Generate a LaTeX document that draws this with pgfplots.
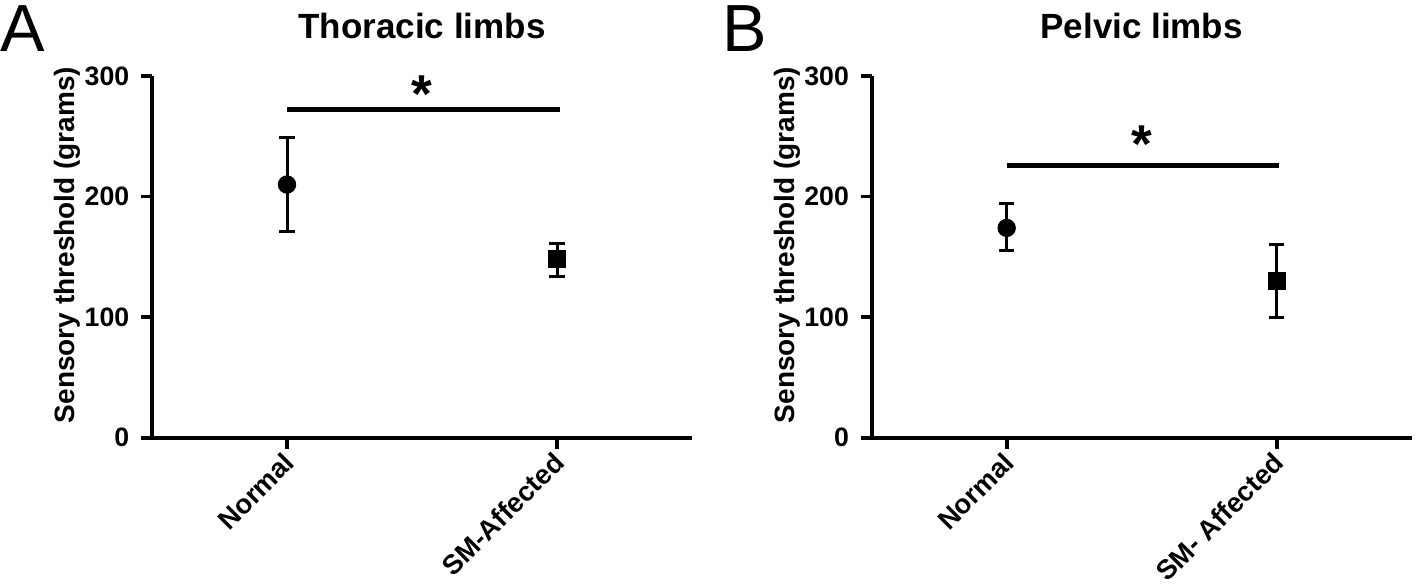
\documentclass[border=0pt]{standalone}
\usepackage{fontspec}
\setmainfont{Liberation Sans}
\usepackage{pgfplots}
\pgfplotsset{compat=1.18}

% shared look of both panels
\pgfplotsset{
  panel/.style={
    scale only axis,
    width=162pt, height=108.5pt,
    anchor=south west,
    clip=false,
    xmin=-0.5, xmax=1.5,
    ymin=0, ymax=300,
    axis x line*=bottom, axis y line*=left,
    axis line style={line width=1.1pt},
    xtick={0,1}, ytick={0,100,200,300},
    tick align=outside,
    major tick length=3.3pt,
    tick style={line width=1.1pt, black},
    /pgf/number format/assume math mode=true,
    yticklabel style={font=\fontsize{8}{9}\selectfont\bfseries},
    xticklabel style={font=\fontsize{8.2}{9}\selectfont\bfseries, rotate=45, anchor=east, xshift=2pt, yshift=-2.4pt},
    ylabel={Sensory threshold (grams)},
    ylabel style={font=\fontsize{8.4}{10}\selectfont\bfseries, at={(axis description cs:-0.157,0.533)}, anchor=center},
  },
  ebar/.style={black, line width=0.9pt, only marks,
    error bars/y dir=both, error bars/y explicit,
    error bars/error bar style={line width=0.9pt},
    error bars/error mark options={rotate=90, line width=0.9pt, mark size=2.3pt}},
}
\tikzset{
  ttl/.style={font=\fontsize{10.5}{12}\selectfont\bfseries, anchor=base},
  star/.style={font=\fontsize{16}{16}\selectfont\bfseries, anchor=base},
}

\begin{document}
\begin{tikzpicture}
\path[use as bounding box] (0,0) rectangle (425.4pt,175.8pt);

% ---- Panel A: thoracic limbs ----
\begin{axis}[panel, at={(45.6pt,44.49pt)},
  xticklabels={Normal,SM-Affected}]
\addplot[ebar, mark=*, mark size=2.3pt] coordinates {
  (0,210) += (0,39) -= (0,39)
};
\addplot[ebar, mark=square*, mark size=2.2pt] coordinates {
  (1,148) += (0,13) -= (0,14)
};
% significance bar
\addplot[black, line width=1.5pt] coordinates {(0,272)(1.01,272)};
\node[star] at (axis cs:0.5,270) {*};
\node[ttl] at (axis description cs:0.5,1.1037) {Thoracic limbs};
\end{axis}

% ---- Panel B: pelvic limbs ----
\begin{axis}[panel, at={(261.5pt,44.49pt)},
  xticklabels={Normal,SM- Affected}]
\addplot[ebar, mark=*, mark size=2.3pt] coordinates {
  (0,174) += (0,20) -= (0,19)
};
\addplot[ebar, mark=square*, mark size=2.2pt] coordinates {
  (1,130) += (0,30) -= (0,30)
};
\addplot[black, line width=1.5pt] coordinates {(0,226)(1.01,226)};
\node[star] at (axis cs:0.5,228) {*};
\node[ttl] at (axis description cs:0.5,1.1037) {Pelvic limbs};
\end{axis}

% panel letters
\node[anchor=base west, inner sep=0pt, font=\fontsize{20}{20}\selectfont] at (0pt,160.2pt) {A};
\node[anchor=base west, inner sep=0pt, font=\fontsize{20}{20}\selectfont] at (216.5pt,160.2pt) {B};
\end{tikzpicture}
\end{document}
